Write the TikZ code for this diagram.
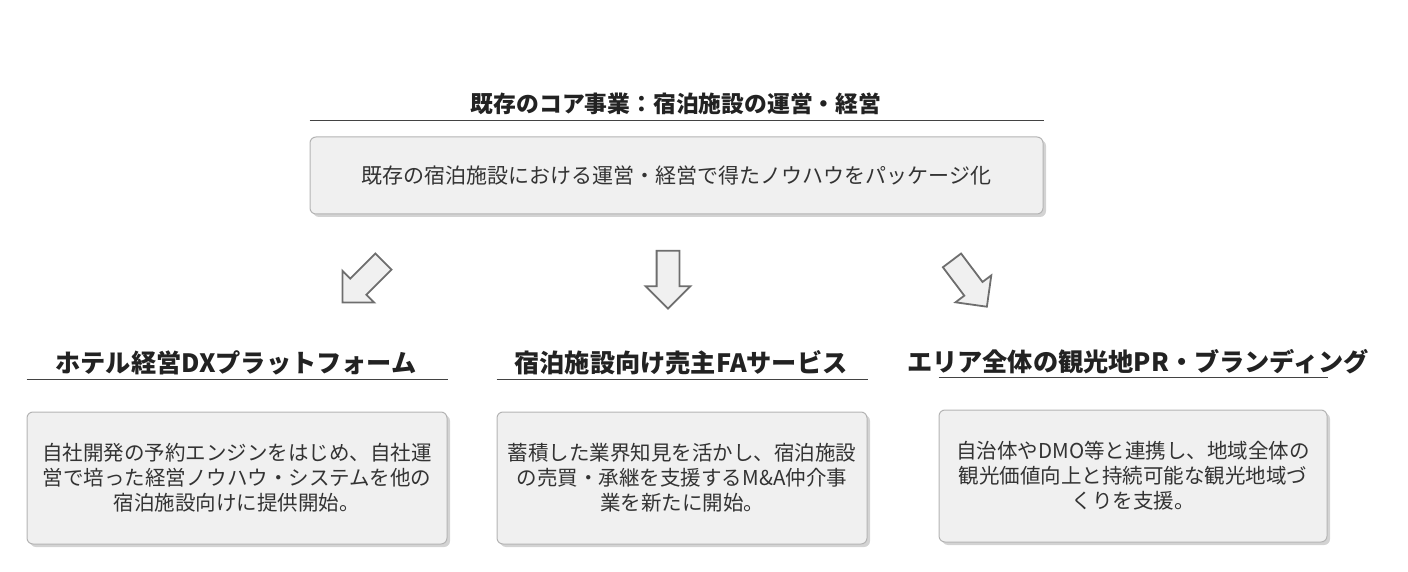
\documentclass[tikz,border=0pt]{standalone}
\usepackage{fontspec}
\setmainfont{Noto Sans CJK JP}
\usepackage{xcolor}
\usetikzlibrary{shapes.arrows, shadows, positioning}
\definecolor{boxfill}{HTML}{F0F0F0}
\definecolor{boxline}{HTML}{B4B4B4}
\definecolor{arrline}{HTML}{6E6E6E}
\definecolor{titletext}{HTML}{222222}
\definecolor{bodytext}{HTML}{333333}
\tikzset{
  % underline below a heading
  uline/.style={
    line width = 0.8pt
    , draw=titletext!85
  },
}
\tikzset{
  %service box style
  card/.style={
    draw=boxline
    , fill=boxfill
    , line width=0.5pt
    , rounded corners=3pt
    , drop shadow={shadow xshift=1.5pt, shadow yshift=-1.5pt, opacity=0.35}
    , text=bodytext
    , align=center
    , anchor=center
  },
  %heading style
  heading/.style={
    font=\bfseries
    , text=titletext
    , inner sep=0pt
  },
  %block arrow style
  blockarr/.style={
    single arrow
    , draw=arrline
    , fill=boxfill
    , line width=0.9pt
    , minimum height=29pt
    , inner sep=5.25pt
    , single arrow head extend=5.5pt
  },
}

\begin{document}
\begin{tikzpicture}[x=0.5pt, y=-0.5pt, node distance=16pt]
  \useasboundingbox (0,0) rectangle (1408,572);

  % existing business
  \node[card, minimum width=366.5pt, minimum height=38.5pt,
        font=\fontsize{10.5}{13}\selectfont] (corebox) at (676.5,175.5)
        {既存の宿泊施設における運営・経営で得たノウハウをパッケージ化};
  \node[heading, font=\bfseries\fontsize{11.4}{13}\selectfont] (core) at (676,104)
        {既存のコア事業：宿泊施設の運営・経営};
  \draw[uline] ([yshift=8pt]corebox.north west) -- ([yshift=8pt]corebox.north east);

  % arrows
  \node[blockarr, rotate=225] (arrl) at (367,278) {};
  \node[blockarr, rotate=-90] (arrm) at (668,274) {};
  \node[blockarr, rotate=-53] (arrr) at (966,279) {};

  % new services
  \node[card, minimum width=210pt, minimum height=66pt,
        font=\fontsize{10.25}{12.5}\selectfont] (dxbox) at (237,478)
        {自社開発の予約エンジンをはじめ、自社運\\営で培った経営ノウハウ・システムを他の\\宿泊施設向けに提供開始。};
  \node[card, minimum width=185pt, minimum height=66pt,
        font=\fontsize{10.25}{12.5}\selectfont] (fabox) at (682,478)
        {蓄積した業界知見を活かし、宿泊施設\\の売買・承継を支援するM\&A仲介事\\業を新たに開始。};
  \node[card, minimum width=194pt, minimum height=66pt,
        font=\fontsize{10.25}{12.5}\selectfont] (prbox) at (1133,476)
        {自治体やDMO等と連携し、地域全体の\\観光価値向上と持続可能な観光地域づ\\くりを支援。};

  \node[heading, font=\bfseries\fontsize{12.6}{15}\selectfont] (dx) at (236,363)
        {ホテル経営DXプラットフォーム};
  \node[heading, font=\bfseries\fontsize{12.6}{15}\selectfont] (fa) at (681,363)
        {宿泊施設向け売主FAサービス};
  \node[heading, font=\bfseries\fontsize{12.6}{15}\selectfont] (pr) at (1138,362)
        {エリア全体の観光地PR・ブランディング};

  \draw[uline] ([yshift=16pt]dxbox.north west) -- ([yshift=16pt]dxbox.north east);
  \draw[uline] ([yshift=16pt]fabox.north west) -- ([yshift=16pt]fabox.north east);
  \draw[uline] ([yshift=16pt]prbox.north west) -- ([yshift=16pt]prbox.north east);
\end{tikzpicture}
\end{document}
